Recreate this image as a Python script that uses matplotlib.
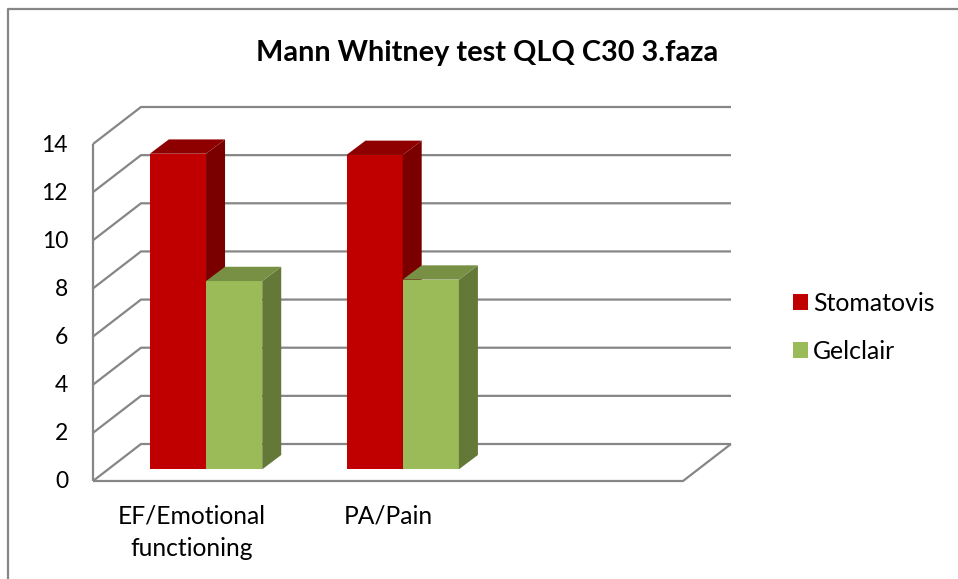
import matplotlib
matplotlib.use('Agg')
import matplotlib.pyplot as plt
from matplotlib.patches import Polygon

W, H = 958, 579

categories = ['EF/Emotional\nfunctioning', 'PA/Pain', '']
series_names = ['Stomatovis', 'Gelclair']
stomatovis = [13.11, 13.06]
gelclair = [7.82, 7.88]
yticks = [0, 2, 4, 6, 8, 10, 12, 14]

GRID = '#868686'
front_colors = ['#C00000', '#9BBB59']
side_colors = ['#7A0000', '#647837']
top_colors = ['#8E0000', '#779044']

plt.rcParams['font.family'] = ['Lato', 'DejaVu Sans']

fig = plt.figure(figsize=(W / 100, H / 100), dpi=100)

# front plane of the 3d box, in pixels of the picture
left, right, top, bottom = 93, 683, 144, 481
ax = fig.add_axes([left / W, 1 - bottom / H, (right - left) / W, (bottom - top) / H])
ax.set_xlim(0, 3)
ax.set_ylim(0, 14)
ax.axis('off')

px_x = 3 / (right - left)
px_y = 14 / (bottom - top)

# depth of the box and of the bars, as data offsets
box_dx, box_dy = 48 * px_x, 37 * px_y
base_dx, base_dy = 14.7 * px_x, 11.7 * px_y
bar_dx, bar_dy = 19 * px_x, 14.3 * px_y
bar_w = 56.2 * px_x

line = dict(color=GRID, lw=1.6, clip_on=False, solid_capstyle='butt')

for v in yticks:
    ax.plot([0, box_dx, 3 + box_dx], [v, v + box_dy, v + box_dy], **line)
ax.plot([0, 0], [0, 14], **line)
ax.plot([0, 3, 3 + box_dx], [0, 0, box_dy], **line)

handles = []
for s, vals in enumerate([stomatovis, gelclair]):
    xs = [i + 0.5 + base_dx + (s - 0.5) * bar_w for i in range(len(vals))]
    bars = ax.bar(xs, vals, bar_w, bottom=base_dy, color=front_colors[s],
                  label=series_names[s], clip_on=False, zorder=3 + s, linewidth=0)
    handles.append(bars)
    for x, v in zip(xs, vals):
        x0, x1 = x - bar_w / 2, x + bar_w / 2
        y0, y1 = base_dy, base_dy + v
        ax.add_patch(Polygon([(x1, y0), (x1 + bar_dx, y0 + bar_dy), (x1 + bar_dx, y1 + bar_dy), (x1, y1)],
                             closed=True, fc=side_colors[s], lw=0, clip_on=False, zorder=3 + s))
        ax.add_patch(Polygon([(x0, y1), (x0 + bar_dx, y1 + bar_dy), (x1 + bar_dx, y1 + bar_dy), (x1, y1)],
                             closed=True, fc=top_colors[s], lw=0, clip_on=False, zorder=3 + s))

for v in yticks:
    ax.annotate(str(v), (0, v), xytext=(-25, -1), textcoords='offset pixels', ha='right',
                va='center', fontsize=16.5, color='black', annotation_clip=False)
for i, c in enumerate(categories):
    ax.annotate(c, (i + 0.5, 0), xytext=(0, -24), textcoords='offset pixels', ha='center',
                va='top', fontsize=17.7, color='black', annotation_clip=False, linespacing=1.5)

fig.text(487 / W, 1 - 53 / H, 'Mann Whitney test QLQ C30 3.faza', ha='center', va='center',
         fontsize=20.8, fontweight='bold', color='black')

fig.legend(handles=handles, loc='center left', bbox_to_anchor=(793 / W, 1 - 327.5 / H), frameon=False,
           fontsize=17.9, handlelength=0.6, handleheight=0.6, handletextpad=0.2, labelspacing=1.0,
           borderpad=0, borderaxespad=0)

# chart border, only top and left reach inside the crop
fig.add_artist(plt.Line2D([8 / W, 8 / W, 1], [0, 1 - 8.5 / H, 1 - 8.5 / H], color=GRID, lw=1.6))

fig.savefig('out.png', dpi=100)
